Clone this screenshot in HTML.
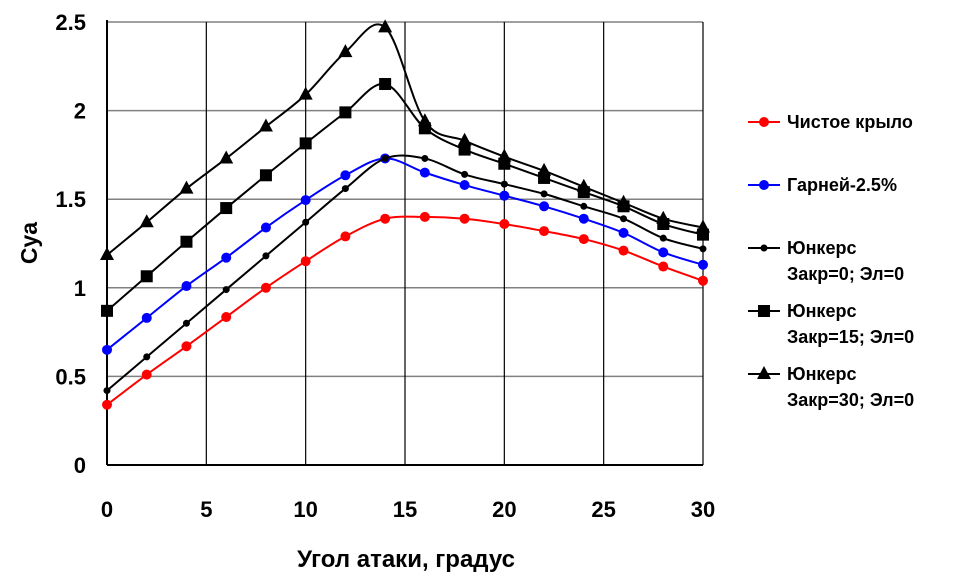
<!DOCTYPE html>
<html><head><meta charset="utf-8"><style>
body{margin:0;background:#fff}
svg{display:block;font-family:"Liberation Sans","DejaVu Sans",sans-serif;font-weight:bold}
</style></head><body>
<svg id="chart" width="976" height="585" viewBox="0 0 976 585"></svg>
<script>
const xValues=[0,2,4,6,8,10,12,14,16,18,20,22,24,26,28,30];
const seriesNames=["Чистое крыло","Гарней-2.5%","Юнкерс|Закр=0; Эл=0","Юнкерс|Закр=15; Эл=0","Юнкерс|Закр=30; Эл=0"];
const cleanWing=[0.34,0.51,0.67,0.835,1.0,1.15,1.29,1.39,1.40,1.39,1.36,1.32,1.275,1.21,1.12,1.04];
const garney=[0.65,0.83,1.01,1.17,1.34,1.495,1.635,1.73,1.65,1.58,1.52,1.46,1.39,1.31,1.20,1.13];
const junkers0=[0.42,0.61,0.80,0.99,1.18,1.37,1.56,1.73,1.73,1.64,1.585,1.53,1.46,1.39,1.28,1.22];
const junkers15=[0.87,1.065,1.26,1.45,1.635,1.815,1.99,2.15,1.90,1.78,1.70,1.62,1.54,1.46,1.36,1.30];
const junkers30=[1.185,1.37,1.56,1.73,1.91,2.09,2.33,2.47,1.94,1.83,1.74,1.66,1.57,1.48,1.39,1.34];
const xTicks=[0,5,10,15,20,25,30];
const yTicks=[0,0.5,1,1.5,2,2.5];
const yTickLabels=["0","0.5","1","1.5","2","2.5"];

const NS="http://www.w3.org/2000/svg";
const svg=document.getElementById('chart');
const X0=107,X1=703,Y0=465,Y1=22;
const sx=v=>X0+(v-0)/(30-0)*(X1-X0);
const sy=v=>Y0-(v-0)/(2.5-0)*(Y0-Y1);
function mk(t,a,p){const e=document.createElementNS(NS,t);for(const k in a)e.setAttribute(k,a[k]);(p||svg).appendChild(e);return e;}

yTicks.forEach((v,i)=>{
  if(i>0){const g=mk('line',{x1:X0,x2:X1,y1:sy(v),y2:sy(v),stroke:'#808080','stroke-width':1.5});
  
  }
  const t=mk('text',{x:86,y:sy(v)+8,'text-anchor':'end','font-size':22});
  t.textContent=yTickLabels[i];
  
  
});
xTicks.forEach(v=>{
  if(v>0){const g=mk('line',{x1:sx(v),x2:sx(v),y1:Y1,y2:Y0,stroke:'#000','stroke-width':1.2});
  
  }
  const t=mk('text',{x:sx(v),y:517,'text-anchor':'middle','font-size':22});
  t.textContent=String(v);
  
  
});
const ax=mk('line',{x1:X0,x2:X0,y1:Y1-2,y2:Y0,stroke:'#000','stroke-width':2});


const axx=mk('line',{x1:X0,x2:X1,y1:Y0,y2:Y0,stroke:'#000','stroke-width':2});



const yt=mk('text',{x:0,y:0,'text-anchor':'middle','font-size':23,transform:'translate(37,243) rotate(-90)'});
yt.textContent='Cya';


const xt=mk('text',{x:406,y:567,'text-anchor':'middle','font-size':24});
xt.textContent='Угол атаки, градус';



function smooth(pts){
  let d=`M${pts[0][0]},${pts[0][1]}`;
  for(let i=0;i<pts.length-1;i++){
    const p0=pts[Math.max(0,i-1)],p1=pts[i],p2=pts[i+1],p3=pts[Math.min(pts.length-1,i+2)];
    const t=1/6;
    d+=` C${p1[0]+(p2[0]-p0[0])*t},${p1[1]+(p2[1]-p0[1])*t} ${p2[0]-(p3[0]-p1[0])*t},${p2[1]-(p3[1]-p1[1])*t} ${p2[0]},${p2[1]}`;
  }
  return d;
}
function marker(type,x,y,color,g){
  let m;
  if(type==='circle')m=mk('circle',{cx:x,cy:y,r:5,fill:color},g);
  else if(type==='dot')m=mk('circle',{cx:x,cy:y,r:3.5,fill:color},g);
  else if(type==='square')m=mk('rect',{x:x-6,y:y-6,width:12,height:12,fill:color},g);
  else m=mk('polygon',{points:`${x},${y-8} ${x-7},${y+5} ${x+7},${y+5}`,fill:color},g);
  return m;
}
const seriesData=[cleanWing,garney,junkers0,junkers15,junkers30];
const colors=['#ff0000','#0000ff','#000','#000','#000'];
const markers=['circle','circle','dot','square','triangle'];
const seriesKeys=['clean-wing','garney','junkers-0','junkers-15','junkers-30'];
const legendY=[[122],[185],[248,274],[311,337],[374,400]];
seriesData.forEach((vals,s)=>{
  const g=mk('g',{});
  
  
  const pts=vals.map((v,i)=>[sx(xValues[i]),sy(v)]);
  mk('path',{d:smooth(pts),fill:'none',stroke:colors[s],'stroke-width':2},g);
  pts.forEach(p=>{
    const m=marker(markers[s],p[0],p[1],colors[s],g);
    
    
  });
  const lg=mk('g',{});
  
  
  const ly=legendY[s][0];
  mk('line',{x1:748,x2:780,y1:ly,y2:ly,stroke:colors[s],'stroke-width':2},lg);
  marker(markers[s],764,ly,colors[s],lg);
  const lines=seriesNames[s].split('|');
  lines.forEach((txt,k)=>{
    const t=mk('text',{x:787,y:legendY[s][k]+6,'font-size':18},lg);
    t.textContent=txt;
  });
});
</script>
</body></html>
